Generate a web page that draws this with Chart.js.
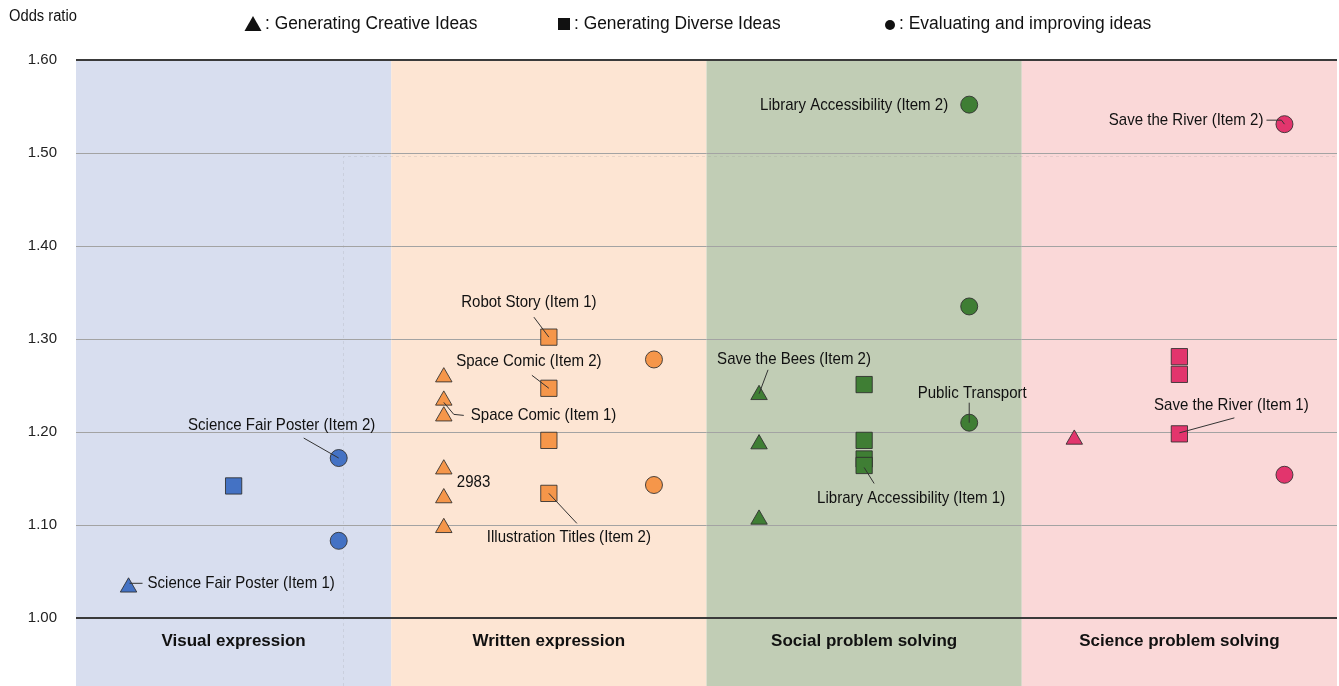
<!DOCTYPE html>
<html>
<head>
<meta charset="utf-8">
<script src="https://cdn.jsdelivr.net/npm/chart.js@4/dist/chart.umd.min.js"></script>
<style>
    html, body { margin: 0; padding: 0; background: #fff; overflow: hidden; }
    #wrap { width: 1339px; height: 686px; position: relative; }
    #chart { display: block; }
</style>
</head>
<body>
<div id="wrap"><canvas id="chart"></canvas></div>
<script>
const FONT = "'Liberation Sans', Arial, sans-serif";

// domains along the x axis
const domains = ['Visual expression', 'Written expression', 'Social problem solving', 'Science problem solving'];
const shapeNames = ['Generating Creative Ideas', 'Generating Diverse Ideas', 'Evaluating and improving ideas'];

// odds ratios per domain, one list per idea type
const creativeIdeas = [
    [1.033],
    [1.259, 1.234, 1.217, 1.160, 1.129, 1.097],
    [1.240, 1.187, 1.106],
    [1.192],
];
const diverseIdeas = [
    [1.142],
    [1.302, 1.247, 1.191, 1.134],
    [1.251, 1.191, 1.171, 1.164],
    [1.281, 1.262, 1.198],
];
const improvingIdeas = [
    [1.172, 1.083],
    [1.278, 1.143],
    [1.552, 1.335, 1.210],
    [1.531, 1.154],
];

const yTicks = [1.0, 1.1, 1.2, 1.3, 1.4, 1.5, 1.6];

const panelFill = ['#d8deef', '#fde5d3', '#c1cdb5', '#fad8d8'];
const markerFill = ['#4472c4', '#f5964a', '#3f7e34', '#e2356d'];
const pointStyles = ['triangle', 'rect', 'circle'];
const pointSizes = [9.5, 11.5, 8.5];

// callouts: [shape, domain, index, text]
const callouts = [
    [2, 0, 0, 'Science Fair Poster (Item 2)'],
    [0, 0, 0, 'Science Fair Poster (Item 1)'],
    [1, 1, 0, 'Robot Story (Item 1)'],
    [1, 1, 1, 'Space Comic (Item 2)'],
    [0, 1, 1, 'Space Comic (Item 1)'],
    [0, 1, 3, '2983'],
    [1, 1, 3, 'Illustration Titles (Item 2)'],
    [2, 2, 0, 'Library Accessibility (Item 2)'],
    [0, 2, 0, 'Save the Bees (Item 2)'],
    [2, 2, 2, 'Public Transport'],
    [1, 2, 3, 'Library Accessibility (Item 1)'],
    [2, 3, 0, 'Save the River (Item 2)'],
    [1, 3, 2, 'Save the River (Item 1)'],
];
// text offset, alignment and leader path for each callout (pixels from the marker)
const calloutLayout = [
    { dx: -57, dy: -33, align: 'center', line: [[-35, -20], [0, 0]] },
    { dx: 19, dy: -4, align: 'left', line: [[14, -4], [1, -4]] },
    { dx: -20, dy: -35, align: 'center', line: [[-15, -20], [0, 0]] },
    { dx: -20, dy: -27, align: 'center', line: [[-17, -13], [0, 0]] },
    { dx: 27, dy: 15, align: 'left', line: [[20, 15], [10, 14], [0, 2]] },
    { dx: 13, dy: 13, align: 'left', line: null },
    { dx: 20, dy: 44, align: 'center', line: [[28, 30], [0, 0]] },
    { dx: -21, dy: 1, align: 'right', line: null },
    { dx: 35, dy: -35, align: 'center', line: [[9, -25], [0, -1]] },
    { dx: 3, dy: -29, align: 'center', line: [[0, -20], [0, 0]] },
    { dx: 47, dy: 33, align: 'center', line: [[10, 18], [0, 2]] },
    { dx: -21, dy: -4, align: 'right', line: [[-18, -4], [-3, -4], [0, 0]] },
    { dx: 52, dy: -29, align: 'center', line: [[55, -16], [0, -1]] },
];

const series = [creativeIdeas, diverseIdeas, improvingIdeas];

const datasets = [];
domains.forEach((d, di) => {
    series.forEach((values, si) => {
        datasets.push({
            label: d + ' - ' + shapeNames[si],
            data: values[di].map(v => ({ x: di * 6 + 1 + si * 2, y: v })),
            pointStyle: pointStyles[si],
            pointRadius: pointSizes[si],
            pointHoverRadius: pointSizes[si],
            backgroundColor: markerFill[di],
            borderColor: 'rgba(45,45,45,0.85)',
            borderWidth: 1,
            showLine: false,
        });
    });
});

// condensed text: draw at a larger size and squeeze horizontally
function narrowText(ctx, text, x, y, align, sx) {
    ctx.save();
    ctx.translate(x, y);
    ctx.scale(sx, 1);
    ctx.textAlign = align;
    ctx.fillText(text, 0, 0);
    ctx.restore();
}

const panels = {
    id: 'panels',
    beforeDraw(chart) {
        const { ctx, chartArea, scales } = chart;
        const x = scales.x;
        const y = scales.y;
        ctx.save();
        domains.forEach((d, i) => {
            const l = x.getPixelForValue(i * 6);
            const r = x.getPixelForValue(i * 6 + 6);
            ctx.fillStyle = panelFill[i];
            ctx.fillRect(l, chartArea.top, r - l, chart.height - chartArea.top);
        });
        // faint dashed inner frame
        const fx = Math.round(x.getPixelForValue(5.08)) + 0.5;
        const fy = Math.round(y.getPixelForValue(1.497)) + 0.5;
        ctx.strokeStyle = 'rgba(140,140,140,0.18)';
        ctx.lineWidth = 1;
        ctx.setLineDash([3, 3]);
        ctx.beginPath();
        ctx.moveTo(fx, chart.height);
        ctx.lineTo(fx, fy);
        ctx.lineTo(chartArea.right, fy);
        ctx.stroke();
        ctx.restore();
    },
};

const callout = {
    id: 'callout',
    afterDatasetsDraw(chart) {
        const { ctx } = chart;
        ctx.save();
        ctx.font = '17px ' + FONT;
        ctx.fillStyle = '#111';
        ctx.textBaseline = 'middle';
        ctx.strokeStyle = '#333';
        ctx.lineWidth = 1;
        callouts.forEach(([si, di, idx, text], k) => {
            const el = chart.getDatasetMeta(di * 3 + si).data[idx];
            const lay = calloutLayout[k];
            if (lay.line) {
                ctx.beginPath();
                lay.line.forEach(([ox, oy], j) => {
                    if (j === 0) ctx.moveTo(el.x + ox, el.y + oy);
                    else ctx.lineTo(el.x + ox, el.y + oy);
                });
                ctx.stroke();
            }
            narrowText(ctx, text, el.x + lay.dx, el.y + lay.dy, lay.align, 0.885);
        });
        ctx.restore();
    },
};

const header = {
    id: 'header',
    afterDraw(chart) {
        const { ctx } = chart;
        ctx.save();
        ctx.fillStyle = '#111';
        ctx.textBaseline = 'middle';
        ctx.font = '16px ' + FONT;
        narrowText(ctx, 'Odds ratio', 9, 17, 'left', 0.92);

        ctx.font = '18px ' + FONT;
        const cy = 24;
        // triangle
        ctx.beginPath();
        ctx.moveTo(253, 16);
        ctx.lineTo(261.5, 31);
        ctx.lineTo(244.5, 31);
        ctx.closePath();
        ctx.fill();
        narrowText(ctx, ': ' + shapeNames[0], 265, cy, 'left', 0.965);
        // square
        ctx.fillRect(558, 18, 12, 12);
        narrowText(ctx, ': ' + shapeNames[1], 574, cy, 'left', 0.965);
        // circle
        ctx.beginPath();
        ctx.arc(890, 25, 5, 0, Math.PI * 2);
        ctx.fill();
        narrowText(ctx, ': ' + shapeNames[2], 899, cy, 'left', 0.97);
        ctx.restore();
    },
};

new Chart(document.getElementById('chart'), {
    type: 'scatter',
    data: { datasets },
    options: {
        responsive: true,
        maintainAspectRatio: false,
        animation: false,
        layout: { autoPadding: false, padding: { top: 60, right: 2, left: 0, bottom: 0 } },
        plugins: {
            legend: { display: false },
            tooltip: { enabled: false },
        },
        scales: {
            x: {
                type: 'linear',
                min: 0,
                max: 24,
                afterBuildTicks(scale) {
                    scale.ticks = domains.map((d, i) => ({ value: i * 6 + 3 }));
                },
                afterFit(scale) {
                    scale.height = 68;
                    scale.paddingLeft = 0;
                    scale.paddingRight = 0;
                },
                ticks: {
                    callback: (v) => domains[(v - 3) / 6],
                    font: { family: FONT, size: 17, weight: 'bold' },
                    color: '#111',
                    padding: 5,
                    maxRotation: 0,
                    autoSkip: false,
                },
                grid: { display: false },
                border: { display: false },
            },
            y: {
                min: 1.0,
                max: 1.6,
                afterBuildTicks(scale) {
                    scale.ticks = yTicks.map(v => ({ value: v }));
                },
                afterFit(scale) { scale.width = 76; },
                ticks: {
                    callback: (v) => v.toFixed(2),
                    font: { family: FONT, size: 15 },
                    color: '#222',
                    padding: 19,
                },
                grid: {
                    drawTicks: false,
                    color: (c) => (c.tick && (c.tick.value === 1 || c.tick.value === 1.6)) ? '#3a3a3a' : '#a3a3a3',
                    lineWidth: (c) => (c.tick && (c.tick.value === 1 || c.tick.value === 1.6)) ? 2 : 1,
                },
                border: { display: false },
            },
        },
    },
    plugins: [panels, callout, header],
});
</script>
</body>
</html>
